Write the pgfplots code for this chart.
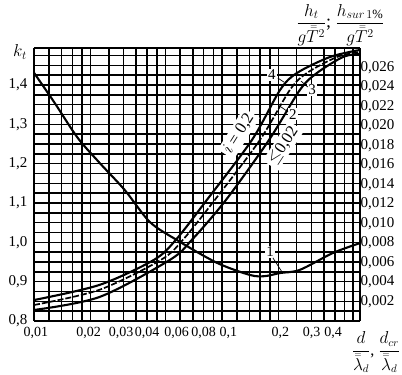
\documentclass[border=0pt]{standalone}
\usepackage{amsmath}
\usepackage{fontspec}
\setmainfont{Liberation Serif}
\usepackage{pgfplots}
\pgfplotsset{compat=1.18}
\usetikzlibrary{calc}
\newcommand{\tl}{\fontsize{15}{17}\selectfont}
\begin{document}
\begin{tikzpicture}
\begin{axis}[name=a,
  scale only axis, width=326pt, height=273pt,
  xmode=log, xmin=0.01, xmax=0.543,
  ymin=0.8, ymax=1.494,
  axis line style={line width=1.6pt},
  xtick={0.01,0.02,0.03,0.04,0.06,0.08,0.1,0.2,0.3,0.4},
  xticklabels={{\hspace*{4pt}0,01},{\hspace*{-4pt}0,02},{\hspace*{-5pt}0,03},{0,04},{\hspace*{-7pt}0,06},{0,08},{\hspace*{13pt}0,1},{\hspace*{4pt}0,2},{0,3},{\hspace*{-4pt}0,4}},
  minor xtick={0.012,0.014,0.016,0.018,0.025,0.035,0.045,0.05,0.07,0.09,0.12,0.14,0.16,0.18,0.25,0.35,0.45,0.5},
  ytick={0.8,0.9,1.0,1.1,1.2,1.3,1.4},
  yticklabels={{0,8},{0,9},{1,0},{1,1},{1,2},{1,3},{1,4}},
  minor ytick={0.825,0.85,0.875,0.925,0.95,0.975,1.025,1.05,1.075,1.125,1.15,1.175,1.225,1.25,1.275,1.325,1.35,1.375,1.425,1.45,1.475},
  grid=both,
  major grid style={black, line width=1.55pt},
  minor grid style={black, line width=1.55pt},
  major tick length=0pt, minor tick length=0pt,
  tick label style={font=\tl},
  xticklabel style={yshift=-3pt, font=\fontsize{14}{16}\selectfont},
  yticklabel style={xshift=-3pt},
  axis y line*=left,
  clip=false,
]
\addplot[black, line width=2.1pt, smooth] coordinates {
  (0.01,1.431) (0.01286,1.355) (0.01706,1.266) (0.02234,1.202) (0.0304,1.133)
  (0.0413,1.052) (0.0575,1.006) (0.094,0.948) (0.141,0.917) (0.169,0.914)
  (0.204,0.922) (0.26,0.930) (0.39,0.973) (0.543,0.998)};
% band labels
\node[fill=white, inner sep=2.5pt, rotate=58, font=\fontsize{16.5}{17}\selectfont] at (rel axis cs:0.628,0.686) {$i$ = 0,2};
\node[fill=white, inner sep=2.5pt, rotate=57, font=\fontsize{16.5}{17}\selectfont] at (rel axis cs:0.765,0.642) {$\leq$0,02};
\end{axis}
\begin{axis}[name=b,
  scale only axis, width=326pt, height=273pt,
  xmode=log, xmin=0.01, xmax=0.543,
  ymin=0, ymax=0.028,
  axis x line=none,
  axis y line*=right,
  axis line style={line width=1.6pt},
  scaled y ticks=false,
  ytick={0.002,0.004,0.006,0.008,0.010,0.012,0.014,0.016,0.018,0.020,0.022,0.024,0.026},
  yticklabels={{0,002},{0,004},{0,006},{0,008},{0,010},{0,012},{0,014},{0,016},{0,018},{0,020},{0,022},{0,024},{0,026}},
  major tick length=0pt,
  tick label style={font=\tl},
  yticklabel style={xshift=-3pt},
  clip=false,
]
% curve 4 (upper)
\addplot[black, line width=2.1pt, smooth] coordinates {
  (0.01,0.00215) (0.0223,0.0037) (0.0434,0.00626) (0.0568,0.00831) (0.0831,0.01241)
  (0.1444,0.01856) (0.204,0.0237) (0.251,0.02544) (0.376,0.02708) (0.543,0.0278)};
% curve 3 (middle)
\addplot[black, line width=1.7pt, smooth, dash pattern=on 6pt off 2pt] coordinates {
  (0.01,0.00164) (0.0223,0.0032) (0.0473,0.00626) (0.0619,0.00831) (0.0916,0.01241)
  (0.1592,0.01856) (0.230,0.0237) (0.2836,0.02544) (0.410,0.02708) (0.543,0.0276)};
% curve 2 (lower)
\addplot[black, line width=2.1pt, smooth] coordinates {
  (0.01,0.00113) (0.0223,0.00246) (0.0528,0.00626) (0.0691,0.00831) (0.105,0.01241)
  (0.178,0.01856) (0.260,0.0237) (0.3206,0.02544) (0.441,0.02708) (0.543,0.0274)};
% curve number labels
\node[font=\tl, fill=white, inner sep=1pt] at (rel axis cs:0.724,0.253) {1};
\draw[line width=0.7pt] (rel axis cs:0.733,0.231) -- (rel axis cs:0.761,0.179);
\node[font=\tl, fill=white, inner sep=1pt] at (rel axis cs:0.730,0.901) {4};
\draw[line width=0.7pt] (rel axis cs:0.748,0.890) -- (rel axis cs:0.767,0.875);
\node[font=\tl, fill=white, inner sep=1pt] at (rel axis cs:0.853,0.846) {3};
\draw[line width=0.7pt] (rel axis cs:0.840,0.857) -- (rel axis cs:0.819,0.879);
\node[font=\tl, fill=white, inner sep=1pt] at (rel axis cs:0.794,0.758) {2};
\draw[line width=0.7pt] (rel axis cs:0.779,0.766) -- (rel axis cs:0.758,0.784);
% axis titles
\node[font=\fontsize{17}{18}\selectfont] at (rel axis cs:-0.043,0.985) {$k_t$};
\node[font=\fontsize{18}{19}\selectfont] at (rel axis cs:0.94,1.085)
  {$\dfrac{h_t}{g\bar{\bar{T}}^2}$; $\dfrac{h_{sur\,1\%}}{g\bar{\bar{T}}^2}$};
\node[font=\fontsize{16}{17}\selectfont] at (rel axis cs:1.049,-0.115)
  {$\dfrac{d}{\bar{\bar{\lambda}}_d}$, $\dfrac{d_{cr}}{\bar{\bar{\lambda}}_d}$};
\end{axis}
\pgfresetboundingbox
\path[use as bounding box] ($(a.south west)+(-34pt,-54pt)$) rectangle ($(a.north east)+(42pt,48pt)$);
\end{tikzpicture}
\end{document}
